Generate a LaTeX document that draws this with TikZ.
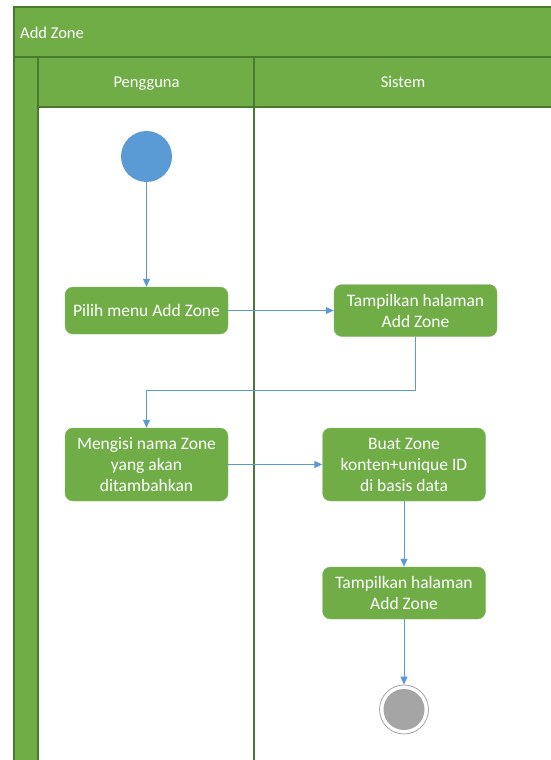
\documentclass[tikz,border=0pt]{standalone}
\usepackage{fontspec}
\setmainfont{Carlito}
\usetikzlibrary{arrows.meta}
\definecolor{grn}{HTML}{70AD47}
\definecolor{dgrn}{HTML}{4A7A2E}
\definecolor{blu}{HTML}{5B9BD5}
\definecolor{gry}{HTML}{A5A5A5}
\tikzset{
  act/.style={fill=grn, draw=grn!85!white, rounded corners=8pt, text=white, align=center,
    inner sep=0pt, minimum width=163pt, font=\fontsize{17.5}{21}\selectfont},
  flow/.style={draw=blu, line width=1pt, -{Triangle[length=8pt,width=7pt]}},
  hdr/.style={text=white, font=\fontsize{16.5}{19}\selectfont, inner sep=0pt, text height=11pt, text depth=4pt},
  lane/.style={draw=dgrn, line width=1.2pt},
}
\begin{document}
\begin{tikzpicture}[x=1pt,y=-1pt]
\useasboundingbox (0,0) rectangle (550,760);
\fill[white] (0,0) rectangle (550,760);
% swimlane frame
\fill[grn] (14,7) rectangle (552,57);
\fill[grn] (14,57) rectangle (38,762);
\fill[grn] (38,57) rectangle (552,107);
\draw[lane] (552,7) -- (14,7) -- (14,762);
\draw[lane] (14,57) -- (552,57);
\draw[lane] (38,57) -- (38,762);
\draw[lane] (38,107) -- (552,107);
\draw[lane] (254,57) -- (254,762);
\node[hdr, anchor=west] (title) at (20,34.5) {Add Zone};
\node[hdr] (lane1) at (146.5,84.5) {Pengguna};
\node[hdr] (lane2) at (403,84.5) {Sistem};
% nodes
\node[circle, fill=blu, minimum size=51pt, inner sep=0pt] (start) at (146.5,156.5) {};
\node[act, minimum height=47pt] (pilih) at (146.5,310.5) {Pilih menu Add Zone};
\node[act, minimum height=52pt] (tamp1) at (415.5,310.5) {Tampilkan halaman\\Add Zone};
\node[act, minimum height=73pt] (isi) at (146.5,464.5) {Mengisi nama Zone\\yang akan\\ditambahkan};
\node[act, minimum height=73pt] (buat) at (404,464.5) {Buat Zone\\konten+unique ID\\di basis data};
\node[act, minimum height=52pt] (tamp2) at (404,593) {Tampilkan halaman\\Add Zone};
\node[circle, draw=gry, line width=0.8pt, fill=white, minimum size=49pt, inner sep=0pt] (end) at (404,709.5) {};
\fill[gry] (end.center) circle (20.5);
% connectors
\draw[flow] (start) -- (pilih);
\draw[flow] (pilih) -- (tamp1);
\draw[flow] (tamp1.south) |- (146.5,390) -- (isi.north);
\draw[flow] (isi) -- (buat);
\draw[flow] (buat) -- (tamp2);
\draw[flow] (tamp2) -- (end);
\end{tikzpicture}
\end{document}
